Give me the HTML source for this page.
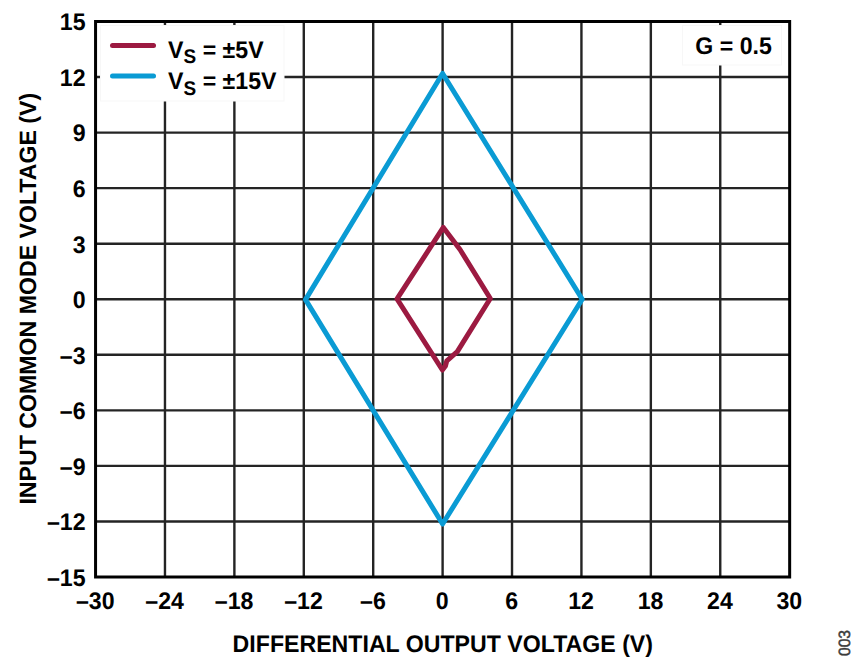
<!DOCTYPE html>
<html><head><meta charset="utf-8"><style>
html,body{margin:0;padding:0;background:#fff;}
svg{display:block;}
text{font-family:"Liberation Sans",sans-serif;font-weight:bold;fill:#000;text-rendering:geometricPrecision;}
</style></head><body>
<svg width="864" height="671" viewBox="0 0 864 671">
<rect width="864" height="671" fill="#fff"/>
<g>
<g stroke="#242424" stroke-width="2.4"><line x1="164.97" y1="21.5" x2="164.97" y2="577"/><line x1="95.5" y1="77.05" x2="789.6" y2="77.05"/><line x1="234.38" y1="21.5" x2="234.38" y2="577"/><line x1="95.5" y1="132.60" x2="789.6" y2="132.60"/><line x1="303.79" y1="21.5" x2="303.79" y2="577"/><line x1="95.5" y1="188.15" x2="789.6" y2="188.15"/><line x1="373.20" y1="21.5" x2="373.20" y2="577"/><line x1="95.5" y1="243.70" x2="789.6" y2="243.70"/><line x1="442.61" y1="21.5" x2="442.61" y2="577"/><line x1="95.5" y1="299.25" x2="789.6" y2="299.25"/><line x1="512.02" y1="21.5" x2="512.02" y2="577"/><line x1="95.5" y1="354.80" x2="789.6" y2="354.80"/><line x1="581.43" y1="21.5" x2="581.43" y2="577"/><line x1="95.5" y1="410.35" x2="789.6" y2="410.35"/><line x1="650.84" y1="21.5" x2="650.84" y2="577"/><line x1="95.5" y1="465.90" x2="789.6" y2="465.90"/><line x1="720.25" y1="21.5" x2="720.25" y2="577"/><line x1="95.5" y1="521.45" x2="789.6" y2="521.45"/></g>
<rect x="95.56" y="21.5" width="694.1" height="555.5" fill="none" stroke="#000" stroke-width="3"/>
<rect x="100.5" y="25.5" width="183.5" height="75.5" fill="#fff" stroke="#f7f7f7" stroke-width="1"/>
<rect x="682.5" y="25.5" width="99" height="39.5" fill="#fff" stroke="#f7f7f7" stroke-width="1"/>
<line x1="112.5" y1="45.4" x2="153.5" y2="45.4" stroke="#9c1a41" stroke-width="5" stroke-linecap="round"/>
<line x1="112.5" y1="76.1" x2="153.5" y2="76.1" stroke="#0a9bd4" stroke-width="5" stroke-linecap="round"/>
<g font-size="23.15">
<g transform="translate(168.1,57.7) scale(1,1.04)"><text x="0" y="0">V<tspan font-size="19" dy="5.4">S</tspan><tspan dy="-5.4"> = ±5V</tspan></text></g>
<g transform="translate(168.1,88.8) scale(1,1.04)"><text x="0" y="0">V<tspan font-size="19" dy="5.8">S</tspan><tspan dy="-5.8"> = ±15V</tspan></text></g>
<g transform="translate(695.35,53.80) scale(1,1.04)"><text x="0" y="0" text-anchor="start" >G = 0.5</text></g>
<g transform="translate(85.60,30.30) scale(1,1.04)"><text x="0" y="0" text-anchor="end" >15</text></g><g transform="translate(85.60,85.85) scale(1,1.04)"><text x="0" y="0" text-anchor="end" >12</text></g><g transform="translate(85.60,141.40) scale(1,1.04)"><text x="0" y="0" text-anchor="end" >9</text></g><g transform="translate(85.60,196.95) scale(1,1.04)"><text x="0" y="0" text-anchor="end" >6</text></g><g transform="translate(85.60,252.50) scale(1,1.04)"><text x="0" y="0" text-anchor="end" >3</text></g><g transform="translate(85.60,308.05) scale(1,1.04)"><text x="0" y="0" text-anchor="end" >0</text></g><g transform="translate(85.60,363.60) scale(1,1.04)"><text x="0" y="0" text-anchor="end" >–3</text></g><g transform="translate(85.60,419.15) scale(1,1.04)"><text x="0" y="0" text-anchor="end" >–6</text></g><g transform="translate(85.60,474.70) scale(1,1.04)"><text x="0" y="0" text-anchor="end" >–9</text></g><g transform="translate(85.60,530.25) scale(1,1.04)"><text x="0" y="0" text-anchor="end" >–12</text></g><g transform="translate(85.60,585.80) scale(1,1.04)"><text x="0" y="0" text-anchor="end" >–15</text></g>
<g transform="translate(95.26,609.10) scale(1,1.04)"><text x="0" y="0" text-anchor="middle" >–30</text></g><g transform="translate(164.67,609.10) scale(1,1.04)"><text x="0" y="0" text-anchor="middle" >–24</text></g><g transform="translate(234.08,609.10) scale(1,1.04)"><text x="0" y="0" text-anchor="middle" >–18</text></g><g transform="translate(303.49,609.10) scale(1,1.04)"><text x="0" y="0" text-anchor="middle" >–12</text></g><g transform="translate(372.90,609.10) scale(1,1.04)"><text x="0" y="0" text-anchor="middle" >–6</text></g><g transform="translate(442.31,609.10) scale(1,1.04)"><text x="0" y="0" text-anchor="middle" >0</text></g><g transform="translate(511.72,609.10) scale(1,1.04)"><text x="0" y="0" text-anchor="middle" >6</text></g><g transform="translate(581.13,609.10) scale(1,1.04)"><text x="0" y="0" text-anchor="middle" >12</text></g><g transform="translate(650.54,609.10) scale(1,1.04)"><text x="0" y="0" text-anchor="middle" >18</text></g><g transform="translate(719.95,609.10) scale(1,1.04)"><text x="0" y="0" text-anchor="middle" >24</text></g><g transform="translate(789.36,609.10) scale(1,1.04)"><text x="0" y="0" text-anchor="middle" >30</text></g>
<g transform="translate(442.80,651.70) scale(1,1.04)"><text x="0" y="0" text-anchor="middle" >DIFFERENTIAL OUTPUT VOLTAGE (V)</text></g>
<g transform="translate(36.1,298.7) rotate(-90) scale(1,1.02)"><text x="0" y="0" text-anchor="middle">INPUT COMMON MODE VOLTAGE (V)</text></g>
</g>
<polygon points="442.6,73.5 582.2,299.2 442.6,524 305.5,299.6" fill="none" stroke="#0a9bd4" stroke-width="5" stroke-linejoin="round"/>
<polygon points="443.3,227.4 460,249.5 490.3,298.5 457.3,351.6 446.8,360.8 445.4,366 442.4,370 397,298.8" fill="none" stroke="#9c1a41" stroke-width="5" stroke-linejoin="round"/>
<g transform="translate(850,643) rotate(-90) scale(1,1.04)"><text x="0" y="0" text-anchor="middle" font-size="15.7" style="font-weight:normal;fill:#3a3a3a;stroke:#3a3a3a;stroke-width:0.45px">003</text></g>
</g>
</svg>
</body></html>
